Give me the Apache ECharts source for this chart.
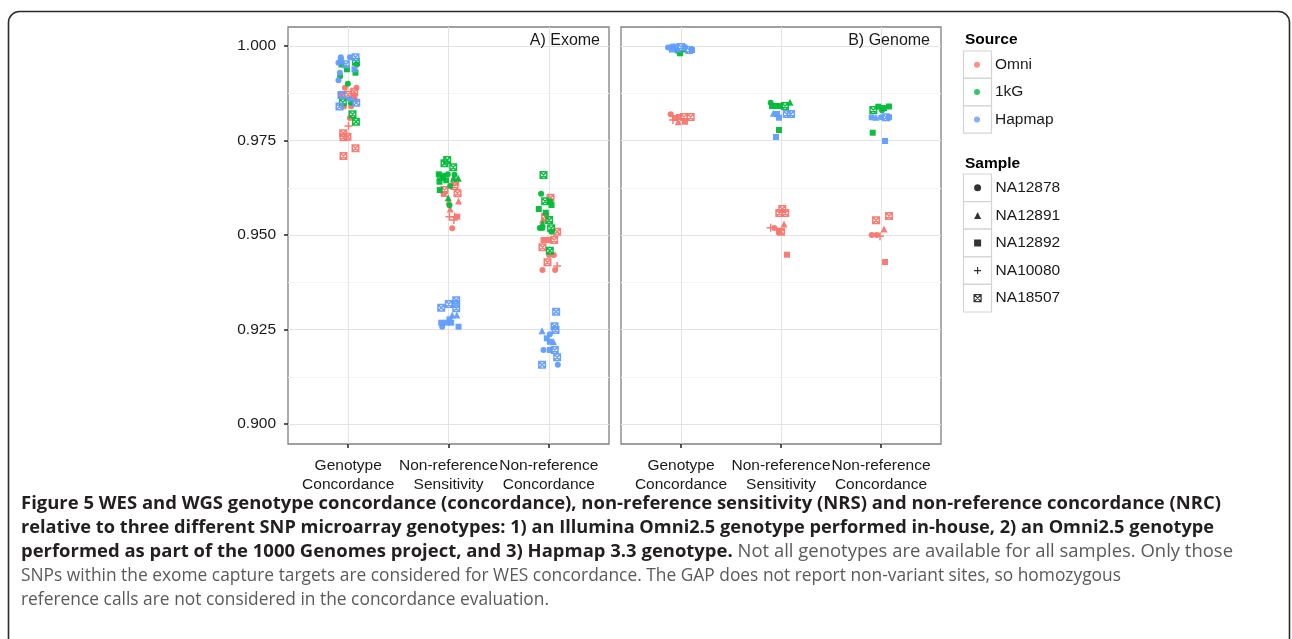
<!DOCTYPE html>
<html><head><meta charset="utf-8">
<script src="https://cdn.jsdelivr.net/npm/echarts@6/dist/echarts.min.js"></script>
<style>html,body{margin:0;padding:0;background:#fff}#c{width:1292px;height:639px}</style>
</head><body><div id="c"></div><script>
// ---- data ----
const metrics = ['Genotype\nConcordance', 'Non-reference\nSensitivity', 'Non-reference\nConcordance'];
const sources = ['Omni', '1kG', 'Hapmap'];
const samples = ['NA12878', 'NA12891', 'NA12892', 'NA10080', 'NA18507'];
const yTicks = [0.900, 0.925, 0.950, 0.975, 1.000];
const yMinorTicks = [0.9125, 0.9375, 0.9625, 0.9875];
const panels = ['A) Exome', 'B) Genome'];
// each point: [metric (1..3), horizontal jitter, value, sample index]
const exomeOmni = [
[1,-0.033,0.98897,0],[1,0.083,0.98897,0],[1,-0.073,0.98704,2],[1,0.000,0.98712,4],[1,0.060,0.98791,4],[1,0.063,0.98677,2],[1,0.067,0.98606,1],[1,-0.043,0.98399,0],[1,0.030,0.98404,0],[1,0.017,0.98095,0],[1,0.003,0.97884,3],[1,-0.050,0.97690,4],[1,-0.047,0.97587,4],[1,-0.007,0.97600,4],[1,0.073,0.97294,4],[1,-0.047,0.97090,4],
[2,0.067,0.96410,4],[2,0.060,0.96296,4],[2,-0.040,0.96190,4],[2,-0.047,0.96085,2],[2,0.090,0.96103,4],[2,0.003,0.95892,1],[2,0.100,0.95900,1],[2,0.017,0.95688,1],[2,0.010,0.95484,3],[2,0.060,0.95484,3],[2,0.087,0.95484,2],[2,0.053,0.95397,3],[2,0.037,0.95177,0],
[3,0.017,0.95987,4],[3,-0.037,0.95484,4],[3,-0.063,0.95397,1],[3,0.083,0.95087,4],[3,-0.053,0.94868,2],[3,0.000,0.94868,2],[3,0.053,0.94868,4],[3,-0.063,0.94675,4],[3,0.003,0.94471,0],[3,0.050,0.94471,0],[3,-0.013,0.94278,4],[3,-0.063,0.94074,0],[3,0.063,0.94074,0],[3,0.083,0.94180,3]
];
const exome1kG = [
[1,-0.067,0.99511,2],[1,0.077,0.99585,4],[1,0.087,0.99511,0],[1,-0.013,0.99384,2],[1,0.073,0.99294,2],[1,-0.080,0.99198,0],[1,-0.003,0.99003,0],[1,0.027,0.98500,0],[1,-0.053,0.98510,4],[1,0.043,0.98193,4],[1,0.077,0.97997,4],
[2,-0.013,0.96984,4],[2,-0.040,0.96897,4],[2,0.047,0.96791,4],[2,-0.097,0.96606,2],[2,-0.053,0.96516,2],[2,-0.007,0.96606,0],[2,0.060,0.96595,0],[2,0.050,0.96500,1],[2,0.097,0.96500,1],[2,-0.090,0.96410,2],[2,-0.073,0.96542,4],[2,-0.023,0.96447,2],[2,0.017,0.96296,0],[2,-0.087,0.96190,2],[2,-0.003,0.95987,1],[2,0.010,0.95786,0],
[3,-0.053,0.96587,4],[3,-0.077,0.96093,0],[3,-0.037,0.95892,4],[3,0.027,0.95794,2],[3,0.010,0.95881,2],[3,-0.100,0.95688,2],[3,-0.030,0.95590,2],[3,-0.063,0.95310,1],[3,0.003,0.95397,4],[3,-0.090,0.95185,0],[3,-0.063,0.95185,0],[3,0.023,0.95177,4],[3,0.027,0.95087,0],[3,0.010,0.94585,4]
];
const exomeHapmap = [
[1,-0.073,0.99701,0],[1,0.017,0.99701,0],[1,0.073,0.99701,4],[1,-0.073,0.99611,2],[1,-0.097,0.99558,0],[1,-0.023,0.99520,4],[1,0.063,0.99384,2],[1,-0.083,0.99294,0],[1,-0.097,0.99093,0],[1,-0.067,0.98704,4],[1,0.013,0.98598,0],[1,0.080,0.98500,4],[1,-0.087,0.98399,4],
[2,0.077,0.93272,4],[2,0.003,0.93175,4],[2,0.070,0.93175,4],[2,-0.073,0.93077,4],[2,0.077,0.93061,4],[2,0.037,0.92884,1],[2,0.083,0.92884,1],[2,0.010,0.92770,2],[2,-0.017,0.92680,2],[2,-0.073,0.92680,2],[2,0.027,0.92680,2],[2,-0.063,0.92574,0],[2,0.100,0.92574,2],
[3,0.073,0.92971,4],[3,0.057,0.92585,4],[3,-0.067,0.92468,1],[3,0.067,0.92487,4],[3,0.010,0.92373,0],[3,-0.020,0.92267,2],[3,0.010,0.92177,2],[3,0.047,0.92177,1],[3,-0.053,0.91958,0],[3,0.010,0.91958,2],[3,0.060,0.91958,4],[3,0.083,0.91765,4],[3,-0.067,0.91569,4],[3,0.090,0.91569,0]
];
const genomeOmni = [
[1,-0.103,0.98193,0],[1,-0.060,0.98095,2],[1,-0.020,0.98122,2],[1,0.030,0.98122,4],[1,0.097,0.98122,4],[1,-0.027,0.97997,1],[1,0.040,0.97997,2],[1,-0.080,0.98042,3],
[2,0.013,0.95688,4],[2,-0.017,0.95582,4],[2,0.043,0.95582,4],[2,0.030,0.95291,1],[2,-0.103,0.95193,3],[2,-0.067,0.95185,0],[2,0.000,0.95087,4],[2,-0.020,0.95087,2],[2,0.060,0.94479,2],
[3,-0.050,0.95389,4],[3,0.080,0.95503,4],[3,-0.093,0.94999,0],[3,-0.043,0.94999,0],[3,-0.010,0.94970,3],[3,0.030,0.95159,1],[3,0.040,0.94286,2]
];
const genome1kG = [
[1,-0.037,0.99876,0],[1,-0.010,0.99807,2],[1,0.030,0.99920,1],
[2,-0.103,0.98500,0],[2,-0.090,0.98413,2],[2,-0.050,0.98413,2],[2,-0.010,0.98413,2],[2,0.040,0.98413,4],[2,0.090,0.98510,1],[2,-0.020,0.97778,2],
[3,-0.077,0.98307,4],[3,-0.027,0.98394,2],[3,0.030,0.98360,2],[3,0.080,0.98400,2],[3,0.010,0.98300,0],[3,-0.083,0.97706,2]
];
const genomeHapmap = [
[1,-0.130,0.99960,0],[1,-0.090,0.99987,0],[1,-0.050,0.99987,2],[1,0.000,0.99974,4],[1,0.040,0.99974,0],[1,-0.090,0.99907,2],[1,-0.030,0.99920,1],[1,0.083,0.99894,4],[1,0.110,0.99894,2],
[2,-0.077,0.98220,1],[2,-0.040,0.98201,2],[2,-0.020,0.98103,2],[2,0.057,0.98201,4],[2,0.100,0.98201,4],[2,-0.050,0.97593,2],
[3,-0.093,0.98114,2],[3,-0.050,0.98114,1],[3,0.000,0.98114,0],[3,0.050,0.98114,4],[3,0.080,0.98114,2],[3,0.040,0.97487,2]
];
const captionLines = [
  [['b','Figure 5 WES and WGS genotype concordance (concordance), non-reference sensitivity (NRS) and non-reference concordance (NRC)']],
  [['b','relative to three different SNP microarray genotypes: 1) an Illumina Omni2.5 genotype performed in-house, 2) an Omni2.5 genotype']],
  [['b','performed as part of the 1000 Genomes project, and 3) Hapmap 3.3 genotype.'],['r',' Not all genotypes are available for all samples. Only those']],
  [['r','SNPs within the exome capture targets are considered for WES concordance. The GAP does not report non-variant sites, so homozygous']],
  [['r','reference calls are not considered in the concordance evaluation.']]
];

// ---- styling ----
const FONT = 'Liberation Sans, Arial, Helvetica, sans-serif';
const CAPFONT = '"Open Sans", "Noto Sans", sans-serif';
const srcColors = ['#F8766D', '#00BA38', '#619CFF'];
const PLUS = 'path://M5,0L5,10M0,5L10,5';
const BOXX = 'path://M0,0L10,0L10,10L0,10ZM0,0L10,10M10,0L0,10';
const shapeDefs = [
  {symbol: 'circle', size: 6, stroke: false},
  {symbol: 'triangle', size: 7, stroke: false},
  {symbol: 'rect', size: 6, stroke: false},
  {symbol: PLUS, size: 8, stroke: true},
  {symbol: BOXX, size: 6.5, stroke: true}
];
const grids = [
  {left: 288, top: 27, width: 321, height: 417},
  {left: 621, top: 27, width: 320, height: 417}
];
const Y_MIN = 0.89471, Y_MAX = 1.00503;

const chart = echarts.init(document.getElementById('c'), null, {renderer: 'canvas'});

const xAxes = [], yAxes = [];
grids.forEach((g, p) => {
  xAxes.push({
    type: 'value', gridIndex: p, min: 0.4, max: 3.6,
    axisLine: {show: false},
    axisTick: {show: true, customValues: [1, 2, 3], length: 4, lineStyle: {color: '#222', width: 1.5}},
    axisLabel: {show: true, customValues: [1, 2, 3], interval: 0, hideOverlap: false, showMinLabel: true, showMaxLabel: true,
      margin: 12, fontFamily: FONT, fontSize: 15.5, color: '#1a1a1a', lineHeight: 19,
      formatter: v => metrics[Math.round(v) - 1] || ''},
    splitLine: {show: true, lineStyle: {color: '#e3e3e3', width: 1}}
  });
  yAxes.push({
    type: 'value', gridIndex: p, min: Y_MIN, max: Y_MAX,
    axisLine: {show: false},
    axisTick: {show: p === 0, customValues: yTicks, length: 4, lineStyle: {color: '#222', width: 1.5}},
    axisLabel: {show: p === 0, customValues: yTicks, margin: 12, fontFamily: FONT, fontSize: 15.5, color: '#1a1a1a',
      formatter: v => v.toFixed(3)},
    splitLine: {show: true, lineStyle: {color: '#e3e3e3', width: 1}}
  });
});
grids.forEach((g, p) => {
  yAxes.push({
    type: 'value', gridIndex: p, min: Y_MIN, max: Y_MAX, position: 'left',
    axisLine: {show: false},
    axisTick: {show: false, customValues: yMinorTicks},
    axisLabel: {show: false, customValues: yMinorTicks},
    splitLine: {show: true, lineStyle: {color: '#f5f5f5', width: 1}}
  });
});

const series = [];
const panelData = [[exomeOmni, exome1kG, exomeHapmap], [genomeOmni, genome1kG, genomeHapmap]];
panelData.forEach((srcArrs, p) => {
  srcArrs.forEach((arr, s) => {
    shapeDefs.forEach((sd, k) => {
      const data = arr.filter(d => d[3] === k).map(d => [d[0] + d[1], d[2]]);
      if (!data.length) return;
      series.push({
        type: 'scatter', name: panels[p] + ' ' + sources[s] + ' ' + samples[k],
        xAxisIndex: p, yAxisIndex: p, data: data,
        symbol: sd.symbol, symbolSize: sd.size,
        itemStyle: sd.stroke
          ? {color: 'rgba(0,0,0,0)', borderColor: srcColors[s], borderWidth: 1.5, opacity: 0.95}
          : {color: srcColors[s], opacity: 0.95},
        emphasis: {disabled: true}, silent: true, animation: false
      });
    });
  });
});
// legend-only series
sources.forEach((n, s) => series.push({type: 'scatter', name: n, xAxisIndex: 0, yAxisIndex: 0, data: [], symbol: 'circle', itemStyle: {color: srcColors[s]}}));
samples.forEach((n, k) => series.push({type: 'scatter', name: n, xAxisIndex: 0, yAxisIndex: 0, data: [], symbol: shapeDefs[k].symbol, itemStyle: {color: '#000'}}));

const SRC_TOP = 51, SRC_PITCH = 27.4, SMP_TOP = 174, SMP_PITCH = 27.6;
const legendText = {fontFamily: FONT, fontSize: 15.5, color: '#1a1a1a'};
const legends = [
  {orient: 'vertical', left: 974, top: SRC_TOP, padding: 0, itemGap: 0, itemWidth: 6, itemHeight: 6, selectedMode: false,
    textStyle: Object.assign({lineHeight: SRC_PITCH, padding: [0, 0, 0, 10]}, legendText),
    data: sources.map((n, s) => ({name: n, icon: 'circle', itemStyle: {color: srcColors[s]}}))},
  {orient: 'vertical', left: 973.5, top: SMP_TOP, padding: 0, itemGap: 0, itemWidth: 7, itemHeight: 7, selectedMode: false,
    textStyle: Object.assign({lineHeight: SMP_PITCH, padding: [0, 0, 0, 9.5]}, legendText),
    data: samples.map((n, k) => ({name: n, icon: shapeDefs[k].symbol,
      itemStyle: shapeDefs[k].stroke ? {color: 'rgba(0,0,0,0)', borderColor: '#000', borderWidth: 1.2} : {color: '#000', borderWidth: 0}}))}
];

// ---- graphic decorations ----
const graphic = [];
graphic.push({type: 'rect', x: 8.5, y: 11.5, shape: {x: 0, y: 0, width: 1281, height: 700, r: 11},
  style: {fill: 'none', stroke: '#2b2b2b', lineWidth: 1.6}, silent: true, z: -10});
sources.forEach((n, i) => graphic.push({type: 'rect', x: 963.5, y: SRC_TOP + i * SRC_PITCH, shape: {x: 0, y: 0, width: 28, height: SRC_PITCH},
  style: {fill: '#fff', stroke: '#d4d4d4', lineWidth: 1.2}, silent: true, z: -5}));
samples.forEach((n, i) => graphic.push({type: 'rect', x: 963.5, y: SMP_TOP + i * SMP_PITCH, shape: {x: 0, y: 0, width: 28, height: SMP_PITCH},
  style: {fill: '#fff', stroke: '#d4d4d4', lineWidth: 1.2}, silent: true, z: -5}));
graphic.push({type: 'text', x: 965, y: 40, style: {text: 'Source', font: 'bold 15.5px ' + FONT, fill: '#000', textVerticalAlign: 'middle'}, silent: true});
graphic.push({type: 'text', x: 965, y: 164, style: {text: 'Sample', font: 'bold 15.5px ' + FONT, fill: '#000', textVerticalAlign: 'middle'}, silent: true});
graphic.push({type: 'text', x: 600, y: 41, style: {text: panels[0], font: '16px ' + FONT, fill: '#1a1a1a', textAlign: 'right', textVerticalAlign: 'middle'}, silent: true, z: 10});
graphic.push({type: 'text', x: 930, y: 41, style: {text: panels[1], font: '16px ' + FONT, fill: '#1a1a1a', textAlign: 'right', textVerticalAlign: 'middle'}, silent: true, z: 10});

// caption: fit each line to the width it has in the figure
const capSize = 18, capX = 21, capY0 = 504, capStep = 24;
const capTargets = [1200, 1193, 1212, 1100, 528];
const boldFont = 'bold ' + capSize + 'px ' + CAPFONT, regFont = capSize + 'px ' + CAPFONT;
const mctx = document.createElement('canvas').getContext('2d');
function measure(str, font) { mctx.font = font; return mctx.measureText(str).width; }
captionLines.forEach((parts, i) => {
  let w = 0, txt = '';
  parts.forEach(([t, s]) => { w += measure(s, t === 'b' ? boldFont : regFont); txt += '{' + t + '|' + s + '}'; });
  const sx = capTargets[i] / w;
  graphic.push({type: 'text', x: capX, y: capY0 + i * capStep, scaleX: sx, originX: 0, silent: true,
    style: {text: txt, textVerticalAlign: 'middle',
      rich: {b: {font: boldFont, fill: '#231f20'}, r: {font: regFont, fill: '#5a5a5a'}}}});
});

chart.setOption({
  backgroundColor: '#fff',
  animation: false,
  grid: grids.map(g => Object.assign({show: true, backgroundColor: '#fff', borderColor: '#808080', borderWidth: 1.3, containLabel: false, outerBoundsMode: 'none'}, g)),
  xAxis: xAxes, yAxis: yAxes,
  legend: legends,
  series: series,
  graphic: graphic
});
</script></body></html>
